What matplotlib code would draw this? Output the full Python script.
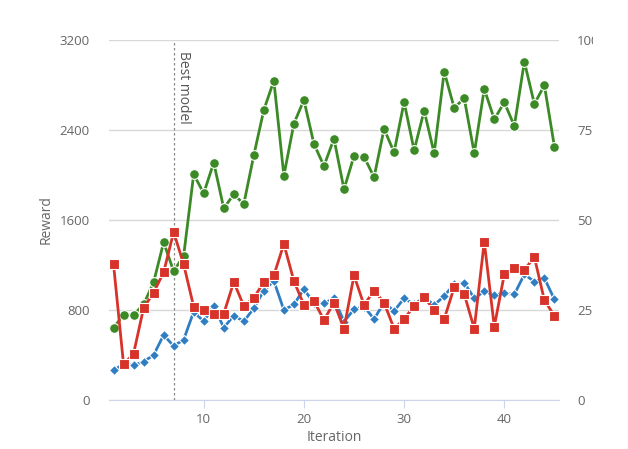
import numpy as np
import matplotlib
matplotlib.use('Agg')
import matplotlib.pyplot as plt
from matplotlib.transforms import Bbox

plt.rcParams['font.family'] = ['Open Sans', 'DejaVu Sans']

iteration = list(range(1, 46))

green = [643, 756, 756, 850, 1046, 1402, 1144, 1283, 2006, 1837,
         2110, 1704, 1828, 1742, 2175, 2578, 2838, 1994, 2456, 2667,
         2276, 2080, 2323, 1873, 2169, 2163, 1980, 2409, 2202, 2649,
         2219, 2572, 2193, 2918, 2596, 2682, 2193, 2764, 2495, 2646,
         2436, 3007, 2631, 2797, 2252]

red = [1206, 317, 412, 818, 954, 1135, 1493, 1206, 829, 800,
       767, 767, 1049, 836, 907, 1049, 1108, 1387, 1058, 844,
       880, 711, 865, 634, 1108, 844, 972, 865, 634, 720,
       836, 913, 800, 720, 1002, 942, 634, 1407, 652, 1117,
       1173, 1156, 1271, 886, 749]

blue = [264, 320, 308, 341, 400, 578, 480, 536, 785, 699,
        836, 643, 750, 699, 815, 972, 1058, 800, 850, 984,
        862, 859, 904, 696, 806, 830, 720, 865, 791, 904,
        850, 913, 844, 924, 1031, 1043, 904, 966, 933, 948,
        939, 1117, 1052, 1082, 895]

left_ticks = [0, 800, 1600, 2400, 3200]
right_ticks = [0, 25, 50, 75, 100]
x_ticks = [10, 20, 30, 40]
best_iter = 7

c_green = '#3b8a26'
c_red = '#d7332a'
c_blue = '#2f7dc2'
grey_txt = '#666666'

fig = plt.figure(figsize=(6.28, 4.49), dpi=100)
ax = fig.add_axes([0.1736, 0.1091, 0.7164, 0.8019])

ax.plot(iteration, blue, color=c_blue, lw=2, marker='D', ms=5,
        mec='white', mew=0.8, zorder=3)
ax.plot(iteration, green, color=c_green, lw=2, marker='o', ms=7,
        mec='white', mew=0.8, zorder=4)
ax.plot(iteration, red, color=c_red, lw=2, marker='s', ms=7.5,
        mec='white', mew=0.8, zorder=5)

ax.axvline(best_iter, color='#888888', lw=0.9, ls=(0, (2, 2)), zorder=2)
ax.text(best_iter + 0.2, 3100, 'Best model', rotation=-90, ha='left', va='top',
        fontsize=10, color='#555555')

ax.set_xlim(0.55, 45.45)
ax.set_ylim(0, 3200)
ax.set_yticks(left_ticks)
ax.set_xticks(x_ticks)
ax.grid(axis='y', color='#d8d8d8', lw=1)
ax.set_axisbelow(True)
for s in ['top', 'right', 'left']:
    ax.spines[s].set_visible(False)
ax.spines['bottom'].set_color('#ccd6eb')
ax.tick_params(axis='y', length=0, pad=14, labelsize=9.5, labelcolor=grey_txt)
ax.tick_params(axis='x', length=6, color='#ccd6eb', pad=3, labelsize=9.5, labelcolor=grey_txt)
ax.set_ylabel('Reward', fontsize=10, color=grey_txt, labelpad=4)
ax.set_xlabel('Iteration', fontsize=10, color=grey_txt, labelpad=3)

ax2 = ax.twinx()
ax2.set_ylim(0, 100)
ax2.set_yticks(right_ticks)
for s in ['top', 'right', 'left', 'bottom']:
    ax2.spines[s].set_visible(False)
ax2.tick_params(axis='y', length=0, pad=13, labelsize=9.5, labelcolor=grey_txt)

# the reference cuts the top right label off
top_lab = ax2.yaxis.get_major_ticks()[-1].label2
top_lab.set_clip_on(True)
top_lab.set_clip_box(Bbox([[0, 0], [593, 449]]))

fig.savefig('out.png', dpi=100)
